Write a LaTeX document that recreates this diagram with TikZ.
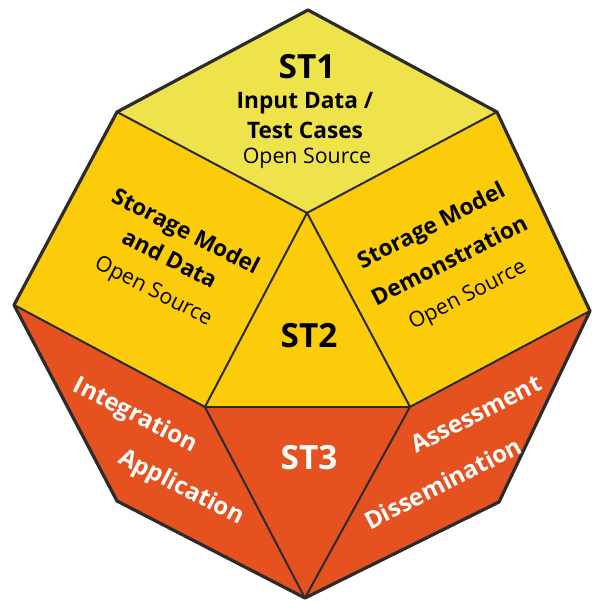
\documentclass[tikz,border=0pt]{standalone}
\usepackage{fontspec}
\setmainfont{Open Sans}
\definecolor{topyellow}{HTML}{EFE34B}
\definecolor{sideyellow}{HTML}{FCCC0A}
\definecolor{storange}{HTML}{E5511F}
\definecolor{edgegray}{HTML}{2B2B2B}

\begin{document}
\begin{tikzpicture}[x=0.75pt, y=-0.75pt,
	face/.style={fill=#1, draw=edgegray, line width=1.4pt, line join=round},
	sttitle/.style={inner sep=0pt, font=\bfseries\fontsize{25}{28}\selectfont},
	head/.style={inner sep=0pt, font=\bfseries\fontsize{17}{20}\selectfont},
	open/.style={inner sep=0pt, font=\fontsize{16}{19}\selectfont},
	task/.style={inner sep=0pt, font=\bfseries\fontsize{18}{21}\selectfont, text=white}]

	\useasboundingbox (0,0) rectangle (592,601);

	% outer corners
	\coordinate (T) at (308,10);
	\coordinate (UR) at (497,112);
	\coordinate (R) at (590,311);
	\coordinate (LR) at (499,502);
	\coordinate (B) at (305,598);
	\coordinate (LL) at (117,501);
	\coordinate (L) at (14,305);
	\coordinate (UL) at (117,112);

	% inner corners
	\coordinate (C) at (307,213);
	\coordinate (D) at (205,407);
	\coordinate (E) at (410,407);

	% yellow faces
	\draw[face=topyellow] (T) -- (UR) -- (C) -- (UL) -- cycle;
	\draw[face=sideyellow] (UL) -- (C) -- (D) -- (L) -- cycle;
	\draw[face=sideyellow] (C) -- (UR) -- (R) -- (E) -- cycle;
	\draw[face=sideyellow] (C) -- (E) -- (D) -- cycle;

	% orange faces
	\draw[face=storange] (L) -- (D) -- (B) -- (LL) -- cycle;
	\draw[face=storange] (D) -- (E) -- (B) -- cycle;
	\draw[face=storange] (E) -- (R) -- (LR) -- (B) -- cycle;

	% heavier rim
	\draw[draw=edgegray, line width=2.4pt, line join=round]
	(T) -- (UR) -- (R) -- (LR) -- (B) -- (LL) -- (L) -- (UL) -- cycle;
	\draw[draw=edgegray, line width=2pt] (D) -- (E);

	% ST1
	\node[sttitle] (st1) at (307,67) {ST1};
	\node[head] (inputdata) at (305,103) {Input Data /};
	\node[head] (testcases) at (305,130) {Test Cases};
	\node[open] (open1) at (307,158) {Open Source};

	% left face
	\node[head, rotate=-27] (smleft) at (185,233) {Storage Model};
	\node[head, rotate=-27] (anddata) at (170,258) {and Data};
	\node[open, rotate=-27] (open2) at (153,292) {Open Source};

	% right face
	\node[head, rotate=27] (smright) at (432,227) {Storage Model};
	\node[head, rotate=27] (demo) at (449,260) {Demonstration};
	\node[open, rotate=27] (open3) at (468,296) {Open Source};

	% ST2 and ST3
	\node[sttitle] (st2) at (309,336) {ST2};
	\node[sttitle, text=white] (st3) at (309,458) {ST3};

	% orange side faces
	\node[task, rotate=-27] (integ) at (135,416) {Integration};
	\node[task, rotate=-27] (appl) at (181,488) {Application};
	\node[task, rotate=27] (assess) at (476,414) {Assessment};
	\node[task, rotate=27] (dissem) at (443,483) {Dissemination};

\end{tikzpicture}
\end{document}
